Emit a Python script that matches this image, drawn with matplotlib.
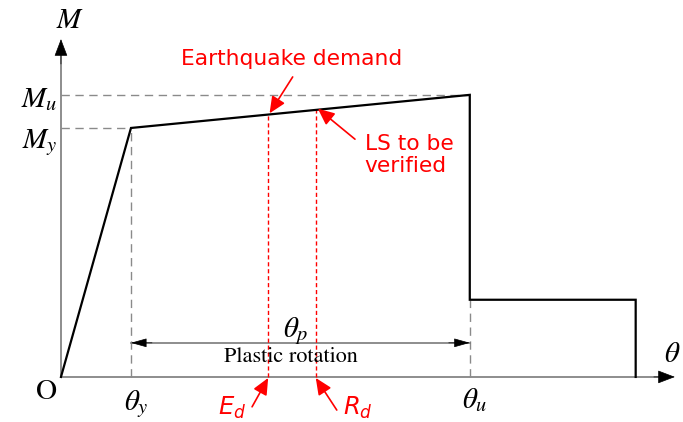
import numpy as np
import matplotlib

matplotlib.use("Agg")
import matplotlib.pyplot as plt

# moment-rotation backbone (normalised: theta_y = 1, M_y = 1)
THETA_PTS = [0.0, 1.0, 5.84, 5.84, 8.21, 8.21]
M_PTS = [0.0, 1.0, 1.133, 0.31, 0.31, 0.0]
THETA_Y = 1.0
THETA_U = 5.84
M_Y = 1.0
M_U = 1.133
M_RES = 0.31
THETA_ED = 2.96
THETA_RD = 3.64

GRAY = "#7a7a7a"
DASH = "#8a8a8a"
RED = "#ff0000"

plt.rcParams["mathtext.fontset"] = "stix"

fig = plt.figure(figsize=(6.83, 4.22), dpi=100)
ax = fig.add_axes([0, 0, 1, 1])
ax.set_xlim(-0.871, 8.886)
ax.set_ylim(-0.181, 1.514)
ax.axis("off")

# axes with arrowheads
x_tip, y_tip = 8.77, 1.357
ax.plot([0, x_tip - 0.1], [0, 0], color=GRAY, lw=1.2, zorder=1)
ax.plot([0, 0], [0, y_tip - 0.03], color=GRAY, lw=1.2, zorder=1)
head = dict(arrowstyle="-|>,head_length=1.1,head_width=0.42", color="black", lw=0.5,
            shrinkA=0, shrinkB=0)
ax.annotate("", xy=(x_tip, 0), xytext=(x_tip - 0.3, 0), arrowprops=head)
ax.annotate("", xy=(0, y_tip), xytext=(0, y_tip - 0.1), arrowprops=head)

# reference dashed lines
dash_kw = dict(color=DASH, lw=1.0, dashes=(6, 4), zorder=1)
ax.plot([0, THETA_U], [M_U, M_U], **dash_kw)
ax.plot([0, THETA_Y], [M_Y, M_Y], **dash_kw)
ax.plot([THETA_Y, THETA_Y], [0, M_Y], **dash_kw)
ax.plot([THETA_U, THETA_U], [0, M_RES], **dash_kw)

# backbone curve
ax.plot(THETA_PTS, M_PTS, color="black", lw=1.6, zorder=3, solid_joinstyle="miter")

# demand / capacity verticals
m_ed = np.interp(THETA_ED, THETA_PTS[1:3], M_PTS[1:3])
m_rd = np.interp(THETA_RD, THETA_PTS[1:3], M_PTS[1:3])
ax.plot([THETA_ED, THETA_ED], [0, m_ed], color=RED, lw=1.0, dashes=(3, 2), zorder=2)
ax.plot([THETA_RD, THETA_RD], [0, m_rd], color=RED, lw=1.0, dashes=(3, 2), zorder=2)

# plastic rotation dimension
y_p = 0.137
ax.plot([THETA_Y, THETA_U], [y_p, y_p], color=GRAY, lw=1.2, zorder=1)
small_head = dict(arrowstyle="-|>,head_length=1.0,head_width=0.28", color="black", lw=0.5,
                  shrinkA=0, shrinkB=0)
ax.annotate("", xy=(THETA_Y, y_p), xytext=(THETA_Y + 0.3, y_p), arrowprops=small_head)
ax.annotate("", xy=(THETA_U, y_p), xytext=(THETA_U - 0.3, y_p), arrowprops=small_head)
ax.text(3.36, 0.16, r"$\theta_p$", fontsize=21, ha="center", va="baseline")
ax.text(3.29, 0.06, "Plastic rotation", fontsize=16, ha="center", va="baseline",
        family="STIXGeneral")

# black labels
math_kw = dict(fontsize=21, va="baseline")
ax.text(0.13, 1.40, r"$M$", ha="center", **math_kw)
ax.text(-0.05, 1.084, r"$M_u$", ha="right", **math_kw)
ax.text(-0.05, 0.92, r"$M_y$", ha="right", **math_kw)
ax.text(-0.2, -0.088, "O", fontsize=21, ha="center", va="baseline", family="STIXGeneral")
ax.text(1.08, -0.133, r"$\theta_y$", ha="center", **math_kw)
ax.text(5.91, -0.125, r"$\theta_u$", ha="center", **math_kw)
ax.text(8.73, 0.06, r"$\theta$", ha="center", **math_kw)

# red annotations
red_arrow = dict(arrowstyle="-|>,head_length=1.0,head_width=0.45", color=RED, lw=1.2,
                 shrinkA=0, shrinkB=0)
ax.text(3.29, 1.253, "Earthquake demand", color=RED, fontsize=15.7, ha="center",
        va="baseline")
ax.annotate("", xy=(THETA_ED + 0.02, m_ed + 0.005), xytext=(3.31, 1.205), arrowprops=red_arrow)
ax.text(4.34, 0.975, "LS to be\nverified", color=RED, fontsize=15.7, ha="left", va="top",
        linespacing=1.1)
ax.annotate("", xy=(THETA_RD + 0.03, m_rd + 0.005), xytext=(4.20, 0.955), arrowprops=red_arrow)

ax.text(2.44, -0.152, r"$E_d$", color=RED, fontsize=17.5, ha="center", va="baseline",
        math_fontfamily="dejavusans")
ax.annotate("", xy=(THETA_ED, -0.004), xytext=(2.73, -0.12), arrowprops=red_arrow)
ax.text(4.24, -0.152, r"$R_d$", color=RED, fontsize=17.5, ha="center", va="baseline",
        math_fontfamily="dejavusans")
ax.annotate("", xy=(THETA_RD, -0.004), xytext=(3.94, -0.133), arrowprops=red_arrow)

fig.savefig("out.png", dpi=100)
